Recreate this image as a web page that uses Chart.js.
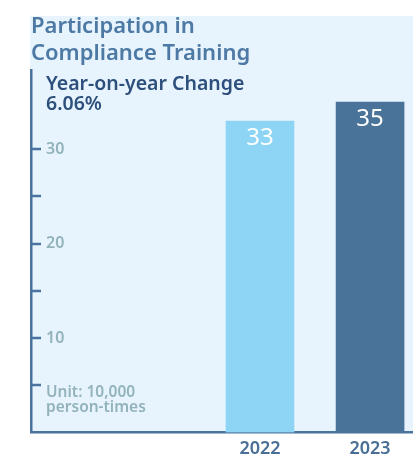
<!DOCTYPE html>
<html>
<head>
<meta charset="utf-8">
<script src="https://cdn.jsdelivr.net/npm/chart.js@4.4.1/dist/chart.umd.min.js"></script>
<style>
  html, body { margin: 0; padding: 0; background: #ffffff; }
  #chart { display: block; }
</style>
</head>
<body>
<canvas id="chart" width="413" height="457"></canvas>
<script>
// chart data
const years = [2022, 2023];
const participation = [33, 35];
const yTickValues = [5, 10, 15, 20, 25, 30];
const yLabelValues = [10, 20, 30];
const titleLines = ['Participation in', 'Compliance Training'];
const changeLines = ['Year-on-year Change', '6.06%'];
const unitLines = ['Unit: 10,000', 'person-times'];

const barColors = ['#8ed4f4', '#4a7399'];
const axisColor = '#4a73a0';
const FONT = '"Noto Sans", sans-serif';

// light panel behind title and plot
const panelPlugin = {
    id: 'panel',
    beforeDraw(chart) {
        const { ctx, chartArea } = chart;
        ctx.save();
        ctx.fillStyle = '#e8f4fd';
        ctx.fillRect(30, 16, chart.width - 30, chartArea.bottom - 16);
        ctx.restore();
    }
};

// texts, inner tick marks and bar value labels
const textPlugin = {
    id: 'texts',
    afterDraw(chart) {
        const { ctx } = chart;
        const yScale = chart.scales.y;
        ctx.save();

        ctx.fillStyle = '#4d79a5';
        ctx.font = '600 22px ' + FONT;
        ctx.textBaseline = 'alphabetic';
        ctx.textAlign = 'left';
        titleLines.forEach((t, i) => ctx.fillText(t, 31, 33 + i * 27));

        ctx.fillStyle = '#2d4f7c';
        ctx.font = '600 19.5px ' + FONT;
        changeLines.forEach((t, i) => ctx.fillText(t, 46, 90 + i * 20));

        ctx.fillStyle = '#92b3bb';
        ctx.font = '600 15.5px ' + FONT;
        unitLines.forEach((t, i) => ctx.fillText(t, 46, 397 + i * 15));

        // tick marks pointing into the plot
        ctx.strokeStyle = axisColor;
        ctx.lineWidth = 2.5;
        yTickValues.forEach(v => {
            const y = Math.round(yScale.getPixelForValue(v));
            ctx.beginPath();
            ctx.moveTo(chart.chartArea.left, y);
            ctx.lineTo(chart.chartArea.left + 10, y);
            ctx.stroke();
        });

        // values inside bars
        ctx.fillStyle = '#ffffff';
        ctx.font = '400 24px ' + FONT;
        ctx.textAlign = 'center';
        ctx.textBaseline = 'alphabetic';
        chart.getDatasetMeta(0).data.forEach((bar, i) => {
            ctx.fillText(String(participation[i]), bar.x, bar.y + 24);
        });
        ctx.restore();
    }
};

new Chart(document.getElementById('chart'), {
    type: 'bar',
    data: {
        datasets: [{
            data: years.map((yr, i) => ({ x: yr, y: participation[i] })),
            backgroundColor: barColors,
            borderWidth: 0,
            barThickness: 68
        }]
    },
    options: {
        responsive: false,
        animation: false,
        devicePixelRatio: 1,
        layout: { padding: { left: 31, top: 70, right: 0, bottom: 0 } },
        plugins: {
            legend: { display: false },
            title: { display: false },
            tooltip: { enabled: false }
        },
        scales: {
            x: {
                type: 'linear',
                offset: false,
                min: 2019.92,
                max: 2023.39,
                afterBuildTicks: scale => { scale.ticks = years.map(v => ({ value: v })); },
                afterFit: scale => { scale.height = 22; },
                grid: { display: false, drawTicks: false },
                border: { display: true, color: axisColor, width: 2.5 },
                ticks: {
                    padding: 6,
                    color: '#4a6f96',
                    font: { family: FONT, size: 18, weight: '600' },
                    callback: v => String(v)
                }
            },
            y: {
                min: 0,
                max: 38.4,
                afterBuildTicks: scale => { scale.ticks = yTickValues.map(v => ({ value: v })); },
                afterFit: scale => { scale.width = 0; },
                grid: { display: false, drawTicks: false },
                border: { display: true, color: axisColor, width: 2.5 },
                ticks: {
                    mirror: true,
                    padding: 15,
                    color: '#92b3bb',
                    font: { family: FONT, size: 16, weight: '600' },
                    callback: v => yLabelValues.includes(v) ? String(v) : ''
                }
            }
        }
    },
    plugins: [panelPlugin, textPlugin]
});
</script>
</body>
</html>
